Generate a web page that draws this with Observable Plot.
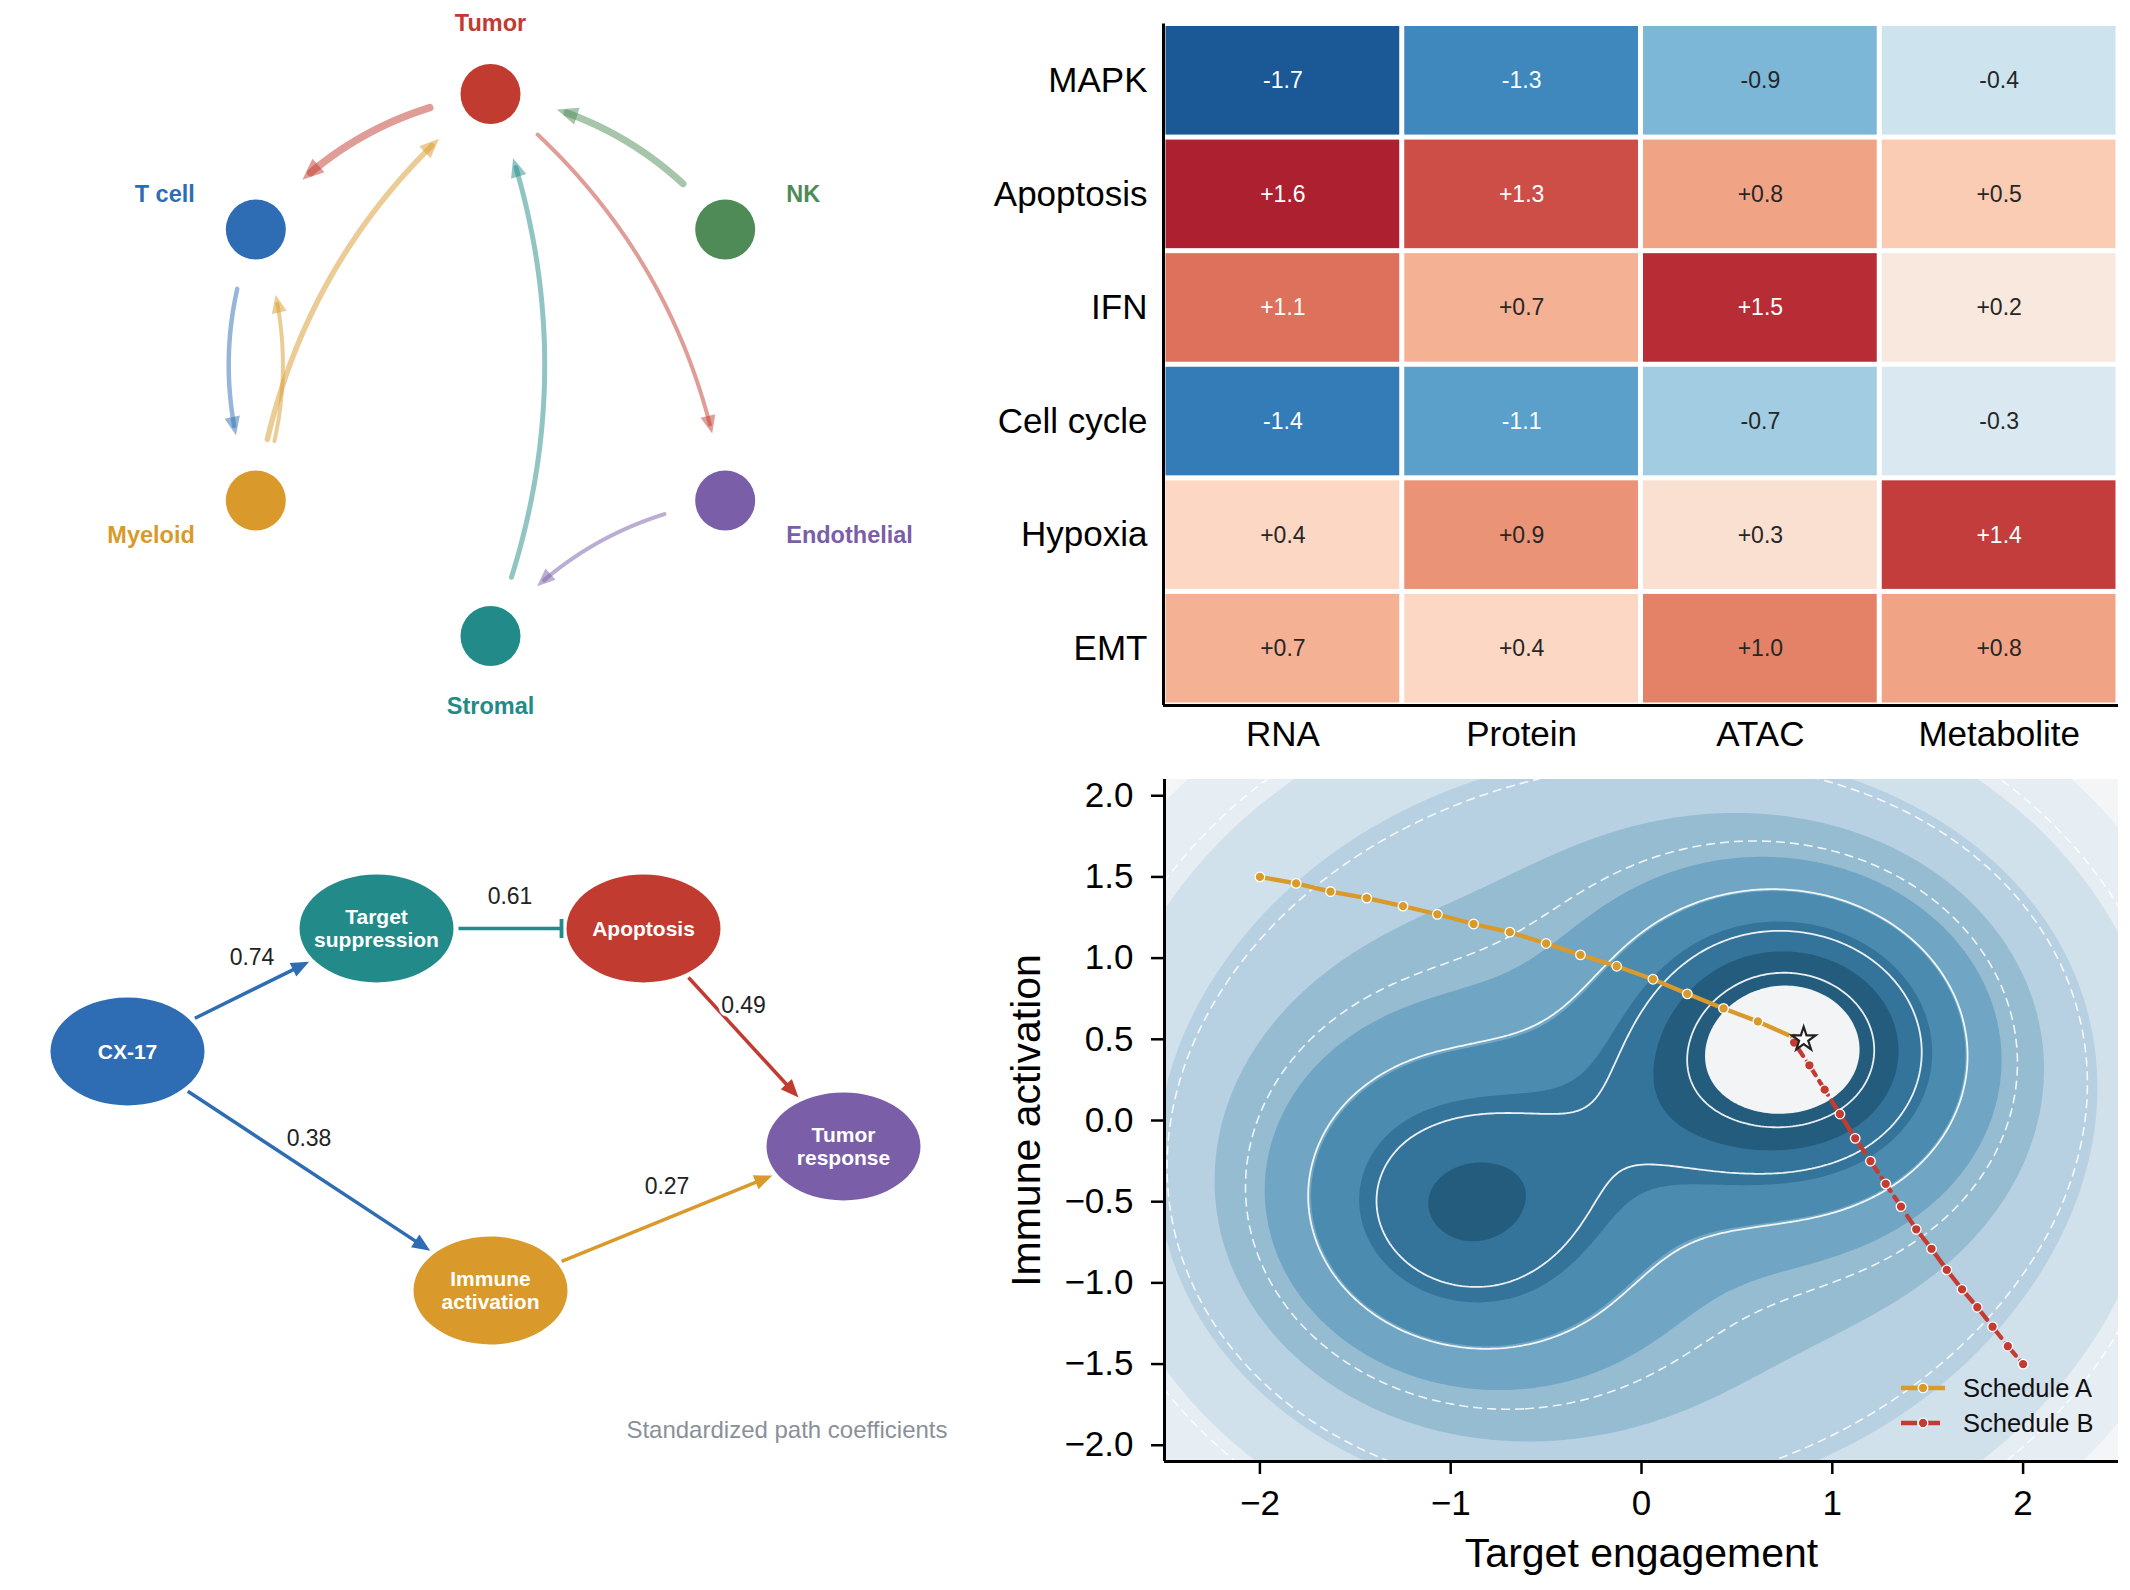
<!DOCTYPE html>
<html>
<head>
<meta charset="utf-8">
<script src="https://cdn.jsdelivr.net/npm/d3@7"></script>
<script src="https://cdn.jsdelivr.net/npm/@observablehq/plot@0.6"></script>
<style>
  html, body { margin: 0; padding: 0; background: #ffffff; }
  #root { position: relative; width: 2130px; height: 1590px; overflow: hidden; background: #ffffff;
          font-family: "Liberation Sans", Arial, Helvetica, sans-serif; }
  #root > svg { position: absolute; max-width: none; }
  .legend { position: absolute; display: flex; align-items: center; font-size: 25.5px; color: #111;
            line-height: 30px; white-space: nowrap; }
</style>
</head>
<body>
<div id="root"></div>
<script>
// ======================= DATA =======================
// Panel A – cell–cell communication network
const cellTypes  = ["Tumor", "T cell", "Myeloid", "Stromal", "Endothelial", "NK"];
const cellAngles = [90, 150, 210, 270, 330, 30];
const cellColors = ["#c23b30", "#2e6db4", "#d99a2b", "#228b8a", "#7a5ea8", "#4e8b57"];
const commSource = ["Tumor", "NK", "Tumor", "T cell", "Myeloid", "Myeloid", "Stromal", "Endothelial"];
const commTarget = ["T cell", "Tumor", "Endothelial", "Myeloid", "T cell", "Tumor", "Tumor", "Stromal"];
const commWeight = [3.0, 2.8, 1.6, 1.8, 1.6, 2.2, 2.0, 1.6];
const commBend   = [0.2, 0.2, -0.2, 0.2, 0.2, -0.2, 0.2, 0.2];

// Panel B – pathway z-scores per modality
const pathways   = ["MAPK", "Apoptosis", "IFN", "Cell cycle", "Hypoxia", "EMT"];
const modalities = ["RNA", "Protein", "ATAC", "Metabolite"];
const zMAPK      = [-1.7, -1.3, -0.9, -0.4];
const zApoptosis = [ 1.6,  1.3,  0.8,  0.5];
const zIFN       = [ 1.1,  0.7,  1.5,  0.2];
const zCellCycle = [-1.4, -1.1, -0.7, -0.3];
const zHypoxia   = [ 0.4,  0.9,  0.3,  1.4];
const zEMT       = [ 0.7,  0.4,  1.0,  0.8];

// Panel C – path model
const pathNodes      = ["CX-17", "Target\nsuppression", "Apoptosis", "Immune\nactivation", "Tumor\nresponse"];
const pathNodeX      = [1.00, 3.49, 6.16, 4.63, 8.16];
const pathNodeY      = [3.49, 4.72, 4.72, 1.10, 2.54];
const pathNodeColors = ["#2e6db4", "#228b8a", "#c23b30", "#d99a2b", "#7a5ea8"];
const pathFrom       = [0, 1, 2, 0, 3];
const pathTo         = [1, 2, 4, 3, 4];
const pathCoef       = [0.74, 0.61, 0.49, 0.38, 0.27];
const pathKind       = ["activate", "inhibit", "activate", "activate", "activate"];
const pathCaption    = "Standardized path coefficients";

// Panel D – response landscape and dosing schedules
const peakX = [0.77, -0.90];
const peakY = [0.45, -0.52];
const peakAmp = [1.0, 0.72];
const peakSd = [0.70, 0.765];
const unionExponent = 1.25;
const bowlCenter = [-0.07, -0.04];
const bowlRadius = 1.1;
const bowlCurv = 0.12;
const fillLevels = [-10, -0.503, -0.332, -0.161, 0.010, 0.181, 0.352, 0.523, 0.694, 0.865];
const fillColors = ["#f3f5f7", "#e6edf3", "#d1e1eb", "#b7d1e2", "#96bcd2", "#70a6c3", "#4b8bb0", "#34749a", "#245c7d", "#f2f4f6"];
const solidLevels  = [0.806, 0.577, 0.3415];
const dashedLevels = [0.113, -0.132, -0.37];
const schedAX = [-2.00, -1.81, -1.63, -1.44, -1.25, -1.07, -0.88, -0.69, -0.50, -0.32, -0.13, 0.06, 0.24, 0.43, 0.61, 0.80];
const schedAY = [ 1.50,  1.46,  1.41,  1.37,  1.32,  1.27,  1.21,  1.16,  1.09,  1.02,  0.95, 0.87, 0.78, 0.69, 0.61, 0.51];
const schedBX = [0.80, 0.88, 0.96, 1.04, 1.12, 1.20, 1.28, 1.36, 1.44, 1.52, 1.60, 1.68, 1.76, 1.84, 1.92, 2.00];
const schedBY = [0.48, 0.34, 0.19, 0.04, -0.11, -0.25, -0.39, -0.53, -0.67, -0.79, -0.92, -1.04, -1.15, -1.27, -1.39, -1.50];
const optimum = [0.85, 0.50];
const scheduleNames  = ["Schedule A", "Schedule B"];
const scheduleColors = ["#d99a2b", "#c43c31"];
const xTicks = [-2, -1, 0, 1, 2];
const yTicks = [-2, -1.5, -1, -0.5, 0, 0.5, 1, 1.5, 2];

// ======================= RENDER =======================
const FONT = '"Liberation Sans", Arial, Helvetica, sans-serif';
const root = document.getElementById("root");
const DEG = Math.PI / 180;
function mount(svg, left, top) {
  svg.style.position = "absolute";
  svg.style.left = left + "px";
  svg.style.top = top + "px";
  root.appendChild(svg);
}
const baseStyle = { fontFamily: FONT, background: "transparent", overflow: "visible" };

// custom symbols: arrow head (tip at origin, pointing up), inhibition bar, ellipse
const headSymbol = { draw(ctx, size) { const L = Math.sqrt(size / Math.PI), hw = 0.42 * L;
  ctx.moveTo(0, 0); ctx.lineTo(hw, L); ctx.lineTo(-hw, L); ctx.closePath(); } };
const barSymbol = { draw(ctx, size) { const L = Math.sqrt(size / Math.PI), h = L / 2, t = 1.9;
  ctx.moveTo(-h, -t); ctx.lineTo(h, -t); ctx.lineTo(h, t); ctx.lineTo(-h, t); ctx.closePath(); } };
const ELLIPSE_ASPECT = 0.70;
const ellipseSymbol = { draw(ctx, size) { const a = Math.sqrt(size / Math.PI), b = a * ELLIPSE_ASPECT, k = 0.5523;
  ctx.moveTo(a, 0);
  ctx.bezierCurveTo(a, k * b, k * a, b, 0, b);
  ctx.bezierCurveTo(-k * a, b, -a, k * b, -a, 0);
  ctx.bezierCurveTo(-a, -k * b, -k * a, -b, 0, -b);
  ctx.bezierCurveTo(k * a, -b, a, -k * b, a, 0);
  ctx.closePath(); } };

// ---------- Panel A: network ----------
(function () {
  const W = 1000, H = 760, unit = 271, ox = 490, oy = 364.5;
  const nodes = cellTypes.map((name, i) => ({ name, color: cellColors[i], a: cellAngles[i],
    x: Math.cos(cellAngles[i] * DEG), y: Math.sin(cellAngles[i] * DEG) }));
  const byName = new Map(nodes.map(d => [d.name, d]));
  const startGap = 62 / unit, tipGap = 68 / unit;
  const marks = [];
  commSource.forEach((src, k) => {
    const a = byName.get(src), b = byName.get(commTarget[k]);
    const dx = b.x - a.x, dy = b.y - a.y;
    const cx = (a.x + b.x) / 2 + commBend[k] * dy, cy = (a.y + b.y) / 2 - commBend[k] * dx;
    const w = commWeight[k] * 2.5;
    const pts = d3.range(0, 1201).map(i => { const t = i / 1200, u = 1 - t;
      return { t, x: u * u * a.x + 2 * u * t * cx + t * t * b.x, y: u * u * a.y + 2 * u * t * cy + t * t * b.y }; });
    const kept = pts.filter(p => Math.hypot(p.x - a.x, p.y - a.y) >= startGap && Math.hypot(p.x - b.x, p.y - b.y) >= tipGap);
    const tip = kept[kept.length - 1];
    const tx = 2 * (1 - tip.t) * (cx - a.x) + 2 * tip.t * (b.x - cx);
    const ty = 2 * (1 - tip.t) * (cy - a.y) + 2 * tip.t * (b.y - cy);
    const headLen = 14 + w;
    const body = kept.filter(p => Math.hypot(p.x - tip.x, p.y - tip.y) >= 0.5 * headLen / unit);
    marks.push(Plot.line(body, { x: "x", y: "y", stroke: a.color, strokeWidth: w, strokeOpacity: 0.5, strokeLinecap: "round" }));
    marks.push(Plot.dot([{ x: tip.x, y: tip.y, rot: Math.atan2(-ty, tx) / DEG + 90 }],
      { x: "x", y: "y", rotate: "rot", r: headLen, symbol: headSymbol, fill: a.color, fillOpacity: 0.5, stroke: "none" }));
  });
  marks.push(Plot.dot(nodes, { x: "x", y: "y", r: 30, fill: "color" }));
  const lab = nodes.map(d => { const c = Math.cos(d.a * DEG);
    return { ...d, lx: 1.26 * c, ly: 1.26 * Math.sin(d.a * DEG), anchor: Math.abs(c) < 1e-6 ? "middle" : (c < 0 ? "end" : "start") }; });
  for (const anchor of ["middle", "start", "end"]) {
    marks.push(Plot.text(lab.filter(d => d.anchor === anchor),
      { x: "lx", y: "ly", text: "name", fill: "color", textAnchor: anchor, fontWeight: "bold", fontSize: 23.5 }));
  }
  mount(Plot.plot({
    width: W, height: H, margin: 0,
    x: { domain: [-ox / unit, (W - ox) / unit], axis: null },
    y: { domain: [-(H - oy) / unit, oy / unit], axis: null },
    color: { type: "identity" },
    style: baseStyle, marks
  }), 0, 0);
})();

// ---------- Panel B: heatmap ----------
(function () {
  const zRows = [zMAPK, zApoptosis, zIFN, zCellCycle, zHypoxia, zEMT];
  const cells = [];
  pathways.forEach((p, i) => modalities.forEach((m, j) => cells.push({ row: i, col: j, v: zRows[i][j] })));
  const fmt = v => (v > 0 ? "+" : "-") + Math.abs(v).toFixed(1);
  const txt = { x: d => d.col + 0.5, y: d => d.row + 0.5, text: d => fmt(d.v), fontSize: 23 };
  mount(Plot.plot({
    width: 1130, height: 770, marginLeft: 163, marginRight: 12, marginTop: 23.5, marginBottom: 65,
    x: { domain: [0, modalities.length] },
    y: { domain: [0, pathways.length], reverse: true },
    color: { type: "diverging", scheme: "rdbu", domain: [-2, 2], pivot: 0, reverse: true },
    style: { ...baseStyle, fontSize: "35px" },
    marks: [
      Plot.rect(cells, { x1: "col", x2: d => d.col + 1, y1: "row", y2: d => d.row + 1, fill: "v", inset: 2.5 }),
      Plot.text(cells.filter(d => Math.abs(d.v) >= 1.05), { ...txt, fill: "white" }),
      Plot.text(cells.filter(d => Math.abs(d.v) < 1.05), { ...txt, fill: "#262626" }),
      Plot.axisX({ ticks: modalities.map((m, j) => j + 0.5), tickFormat: d => modalities[Math.floor(d)],
        tickSize: 0, tickPadding: 16, fontSize: 35, label: null }),
      Plot.axisY({ ticks: pathways.map((p, i) => i + 0.5), tickFormat: d => pathways[Math.floor(d)],
        tickSize: 0, tickPadding: 16, fontSize: 35, label: null }),
      Plot.ruleX([0], { stroke: "#000", strokeWidth: 3 }),
      Plot.ruleY([pathways.length], { stroke: "#000", strokeWidth: 3 })
    ]
  }), 1000, 0);
})();

// ---------- Panel C: path model ----------
(function () {
  const W = 1000, H = 700, unit = 100;
  const rx = 0.77, ry = rx * ELLIPSE_ASPECT, gap = 0.05, headLen = 18;
  const nodes = pathNodes.map((name, i) => ({ name, x: pathNodeX[i], y: pathNodeY[i], color: pathNodeColors[i] }));
  const rAlong = (ux, uy) => 1 / Math.sqrt((ux / rx) ** 2 + (uy / ry) ** 2);
  const links = [], heads = [], bars = [], labels = [];
  pathFrom.forEach((f, k) => {
    const a = nodes[f], b = nodes[pathTo[k]];
    const L = Math.hypot(b.x - a.x, b.y - a.y), ux = (b.x - a.x) / L, uy = (b.y - a.y) / L;
    const r = rAlong(ux, uy);
    const sx = a.x + ux * (r + gap), sy = a.y + uy * (r + gap);
    const ex = b.x - ux * (r + gap), ey = b.y - uy * (r + gap);
    const rot = Math.atan2(-uy, ux) / DEG + 90;
    if (pathKind[k] === "inhibit") {
      links.push({ x1: sx, y1: sy, x2: ex, y2: ey, color: a.color });
      bars.push({ x: ex, y: ey, rot, color: a.color });
    } else {
      const back = 0.6 * headLen / unit;
      links.push({ x1: sx, y1: sy, x2: ex - ux * back, y2: ey - uy * back, color: a.color });
      heads.push({ x: ex, y: ey, rot, color: a.color });
    }
    labels.push({ x: (a.x + b.x) / 2, y: (a.y + b.y) / 2 + 0.32, text: pathCoef[k].toFixed(2) });
  });
  mount(Plot.plot({
    width: W, height: H, margin: 0,
    x: { domain: [-0.27, 9.73], axis: null },
    y: { domain: [-0.8, 6.2], axis: null },
    color: { type: "identity" },
    style: baseStyle,
    marks: [
      Plot.link(links, { x1: "x1", y1: "y1", x2: "x2", y2: "y2", stroke: "color", strokeWidth: 3.5 }),
      Plot.dot(heads, { x: "x", y: "y", rotate: "rot", r: headLen, symbol: headSymbol, fill: "color", stroke: "none" }),
      Plot.dot(bars, { x: "x", y: "y", rotate: "rot", r: 19, symbol: barSymbol, fill: "color", stroke: "none" }),
      Plot.dot(nodes, { x: "x", y: "y", r: rx * unit, symbol: ellipseSymbol, fill: "color", stroke: "none" }),
      Plot.text(nodes, { x: "x", y: "y", text: "name", fill: "white", fontWeight: "bold", fontSize: 21, lineHeight: 1.07 }),
      Plot.text(labels, { x: "x", y: "y", text: "text", fill: "#222", fontSize: 23, stroke: "white", strokeWidth: 7 }),
      Plot.text([pathCaption], { text: d => d, frameAnchor: "bottom-right", textAnchor: "end", lineAnchor: "middle",
        dx: -53, dy: -50, fill: "#8a9099", fontSize: 24 })
    ]
  }), 0, 780);
})();

// ---------- Panel D: landscape ----------
(function () {
  const gx = [-2.8, 2.8], gy = [2.4, -2.4], nx = 336, ny = 288;
  const field = (x, y) => {
    let s = 0;
    for (let i = 0; i < peakX.length; i++) {
      const g = peakAmp[i] * Math.exp(-((x - peakX[i]) ** 2 + (y - peakY[i]) ** 2) / (2 * peakSd[i] ** 2));
      s += Math.pow(g, unionExponent);
    }
    const r = Math.hypot(x - bowlCenter[0], y - bowlCenter[1]);
    const ex = Math.max(0, r - bowlRadius);
    return Math.pow(s, 1 / unionExponent) - bowlCurv * ex * ex;
  };
  const grid = new Array(nx * ny);
  for (let j = 0; j < ny; j++) for (let i = 0; i < nx; i++) {
    grid[j * nx + i] = field(gx[0] + (i + 0.5) * (gx[1] - gx[0]) / nx, gy[0] + (j + 0.5) * (gy[1] - gy[0]) / ny);
  }
  const g = { width: nx, height: ny, x1: gx[0], x2: gx[1], y1: gy[0], y2: gy[1], clip: true };
  const A = schedAX.map((x, i) => ({ x, y: schedAY[i] }));
  const B = schedBX.map((x, i) => ({ x, y: schedBY[i] }));
  const fmtX = d => (d < 0 ? "\u2212" : "") + Math.abs(d);
  const fmtY = d => (d < 0 ? "\u2212" : "") + Math.abs(d).toFixed(1);
  mount(Plot.plot({
    width: 1130, height: 830, marginLeft: 164, marginRight: 12, marginTop: 19, marginBottom: 129,
    x: { domain: [-2.5, 2.5] },
    y: { domain: [-2.1, 2.1] },
    color: { type: "threshold", domain: fillLevels.slice(1), range: fillColors },
    style: { ...baseStyle, fontSize: "35px" },
    marks: [
      Plot.contour(grid, { ...g, fill: Plot.identity, thresholds: fillLevels }),
      Plot.contour(grid, { ...g, value: Plot.identity, thresholds: solidLevels, fill: "none", stroke: "white", strokeWidth: 1.8, strokeOpacity: 0.9 }),
      Plot.contour(grid, { ...g, value: Plot.identity, thresholds: dashedLevels, fill: "none", stroke: "white", strokeWidth: 1.6, strokeOpacity: 0.85, strokeDasharray: "9,5" }),
      Plot.line(A, { x: "x", y: "y", stroke: scheduleColors[0], strokeWidth: 4.3 }),
      Plot.dot(A, { x: "x", y: "y", r: 4.8, fill: scheduleColors[0], stroke: "white", strokeWidth: 1.3 }),
      Plot.line(B, { x: "x", y: "y", stroke: scheduleColors[1], strokeWidth: 4.3, strokeDasharray: "16,7" }),
      Plot.dot(B, { x: "x", y: "y", r: 4.8, fill: scheduleColors[1], stroke: "white", strokeWidth: 1.3 }),
      Plot.dot([optimum], { x: d => d[0], y: d => d[1], symbol: "star", r: 7.5, fill: "white", stroke: "#222", strokeWidth: 2.2 }),
      Plot.ruleX([-2.5], { stroke: "#000", strokeWidth: 3 }),
      Plot.ruleY([-2.1], { stroke: "#000", strokeWidth: 3 }),
      Plot.axisX({ ticks: xTicks, tickFormat: fmtX, tickSize: 13, tickPadding: 16, strokeWidth: 2.5, fontSize: 35, label: null }),
      Plot.axisY({ ticks: yTicks, tickFormat: fmtY, tickSize: 13, tickPadding: 18, strokeWidth: 2.5, fontSize: 35, label: null }),
      Plot.text(["Target engagement"], { text: d => d, frameAnchor: "bottom", lineAnchor: "middle", textAnchor: "middle", dy: 92, fontSize: 41 }),
      Plot.text(["Immune activation"], { text: d => d, frameAnchor: "left", textAnchor: "middle", lineAnchor: "middle", dx: -138, rotate: -90, fontSize: 41 })
    ]
  }), 1000, 760);

  // legend (inside the plot, lower right)
  [1388, 1423].forEach((cy, i) => {
    const div = document.createElement("div");
    div.className = "legend";
    div.style.left = "1899px";
    div.style.top = (cy - 15) + "px";
    div.innerHTML = `<svg width="48" height="30" style="position:static;margin-right:16px;display:block">
      <line x1="2" y1="15" x2="46" y2="15" stroke="${scheduleColors[i]}" stroke-width="4.3" ${i === 1 ? 'stroke-dasharray="16,7"' : ""}/>
      <circle cx="24" cy="15" r="4.8" fill="${scheduleColors[i]}" stroke="white" stroke-width="1.3"/></svg>
      <span>${scheduleNames[i]}</span>`;
    root.appendChild(div);
  });
})();
</script>
</body>
</html>
